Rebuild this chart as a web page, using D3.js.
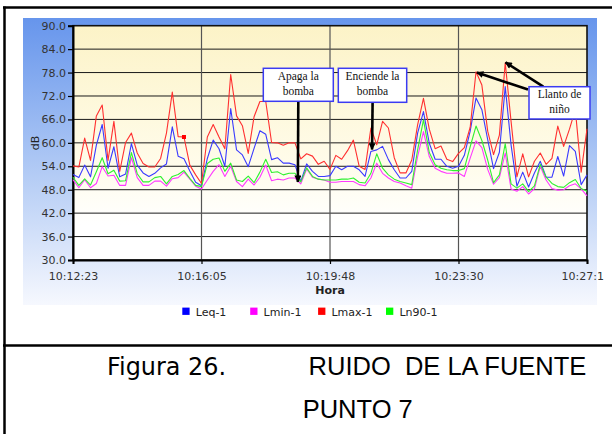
<!DOCTYPE html>
<html>
<head>
<meta charset="utf-8">
<script src="https://cdn.jsdelivr.net/npm/d3@7/dist/d3.min.js"></script>
<style>
  html, body { margin: 0; padding: 0; background: #fff; overflow: hidden; }
  svg { display: block; }
</style>
</head>
<body>
<svg id="fig" width="612" height="434"></svg>
<script>
// Time labels shown on the category axis (one every 22 samples)
const tickLabels = ["10:12:23", "10:16:05", "10:19:48", "10:23:30", "10:27:1"];
const tickIndex = [0, 22, 44, 66, 88];

// dB axis ticks
const yTicks = [30, 36, 42, 48, 54, 60, 66, 72, 78, 84, 90];

// Sound level series, one value per sample
const leq = [
  51.9, 51.1, 54.3, 51.3, 59.4, 64.7, 53.5, 59.0, 51.3, 52.0, 59.8, 54.3, 52.3, 51.4, 52.2, 53.6, 54.6, 64.1, 56.6, 55.9, 52.8, 49.9,
  49.0, 56.0, 60.7, 58.5, 54.0, 68.8, 58.2, 56.9, 53.9, 58.6, 63.1, 62.2, 55.7, 56.2, 54.8, 54.8, 54.4, 50.1, 54.6, 52.7, 51.4, 51.4,
  51.6, 54.0, 53.1, 54.0, 54.0, 53.1, 51.4, 57.8, 58.2, 59.1, 55.7, 53.1, 51.0, 51.0, 52.7, 62.5, 68.0, 59.9, 55.8, 55.8, 54.0, 53.5,
  54.0, 56.8, 63.0, 71.5, 68.5, 60.8, 53.4, 57.6, 74.4, 59.5, 48.9, 52.5, 48.7, 52.3, 55.3, 51.2, 51.2, 56.5, 51.5, 59.3, 57.8, 49.3,
  51.8
];
const lmin = [
  50.6, 48.5, 50.6, 48.5, 49.6, 53.9, 51.5, 51.7, 49.1, 49.1, 56.2, 51.1, 49.1, 49.1, 50.2, 50.2, 48.9, 50.8, 51.1, 52.5, 50.7, 48.9,
  48.2, 50.5, 52.7, 54.4, 51.4, 54.0, 50.1, 48.8, 50.7, 49.2, 51.2, 54.3, 50.3, 50.7, 50.5, 51.0, 51.0, 49.5, 53.3, 51.2, 50.7, 50.5,
  49.9, 49.9, 50.1, 50.1, 50.1, 49.3, 49.0, 51.0, 54.8, 52.2, 51.0, 50.1, 49.7, 49.0, 48.4, 56.5, 62.9, 56.5, 53.5, 52.7, 52.2, 52.2,
  52.3, 51.4, 56.1, 60.5, 58.8, 53.2, 49.4, 51.1, 57.4, 48.2, 47.6, 48.8, 46.9, 48.3, 54.0, 50.5, 48.3, 47.9, 48.0, 49.0, 49.5, 48.2,
  46.4
];
const lmax = [
  54.1, 53.8, 61.2, 55.5, 66.9, 69.7, 55.5, 65.5, 52.7, 60.1, 62.5, 57.4, 54.7, 53.8, 53.8, 56.0, 62.5, 73.0, 61.6, 61.5, 54.3, 51.8,
  49.6, 61.5, 64.7, 61.5, 58.5, 77.5, 66.9, 64.4, 57.3, 66.7, 70.6, 70.6, 60.1, 60.0, 59.4, 60.0, 60.0, 55.9, 57.2, 56.6, 54.5, 55.3,
  53.2, 56.8, 55.8, 58.0, 60.7, 54.0, 53.2, 63.8, 59.5, 65.5, 63.8, 56.2, 52.3, 52.3, 55.6, 64.6, 71.4, 63.5, 58.5, 59.2, 55.8, 55.2,
  57.3, 58.8, 64.0, 78.2, 74.8, 63.0, 57.0, 62.0, 80.5, 65.5, 51.3, 57.2, 51.3, 55.3, 57.4, 54.5, 56.0, 64.3, 59.1, 63.5, 68.5, 52.5,
  63.6
];
const ln90 = [
  51.2, 49.1, 50.8, 49.2, 52.6, 56.2, 52.1, 53.0, 50.2, 50.3, 57.5, 52.1, 50.0, 50.0, 51.1, 51.4, 49.5, 51.4, 51.9, 52.9, 50.9, 49.1,
  48.8, 54.7, 55.8, 56.1, 52.7, 54.8, 50.5, 50.1, 51.5, 49.8, 52.5, 55.8, 52.4, 52.6, 51.8, 52.2, 52.2, 50.0, 53.6, 51.4, 50.7, 50.5,
  50.5, 50.5, 50.7, 50.7, 51.0, 49.9, 49.7, 52.2, 57.2, 53.5, 51.8, 50.7, 50.1, 49.7, 49.3, 58.2, 65.9, 57.5, 54.4, 53.5, 53.1, 52.9,
  52.9, 53.4, 59.0, 64.3, 60.6, 55.6, 49.8, 51.8, 59.8, 49.5, 48.4, 49.5, 47.5, 49.0, 54.5, 51.2, 49.6, 48.8, 48.6, 49.8, 50.6, 48.3,
  47.6
];

const seriesNames = ["Leq-1", "Lmin-1", "Lmax-1", "Ln90-1"];
const seriesValues = [leq, lmin, lmax, ln90];
const seriesColors = ["#0000FF", "#FF00FF", "#FF0000", "#00FF00"];
const lineColors = ["#3A3AFF", "#FF3AFF", "#FF3030", "#30F030"];

// The one Lmax sample that carries a point marker
const lmaxMarked = [19];

const svg = d3.select("#fig");
const defs = svg.append("defs");

// Backgrounds
const bgGrad = defs.append("linearGradient").attr("id", "chartBg")
  .attr("x1", 0).attr("y1", 0).attr("x2", 0).attr("y2", 1);
bgGrad.append("stop").attr("offset", "0%").attr("stop-color", "#6695EC");
bgGrad.append("stop").attr("offset", "55%").attr("stop-color", "#B4CCF5");
bgGrad.append("stop").attr("offset", "100%").attr("stop-color", "#F6F8FE");

const plotGrad = defs.append("linearGradient").attr("id", "plotBg")
  .attr("x1", 0).attr("y1", 0).attr("x2", 0).attr("y2", 1);
plotGrad.append("stop").attr("offset", "0%").attr("stop-color", "#FCF3C7");
plotGrad.append("stop").attr("offset", "60%").attr("stop-color", "#FFFCEB");
plotGrad.append("stop").attr("offset", "85%").attr("stop-color", "#FFFFFF");

defs.append("marker").attr("id", "head")
  .attr("markerUnits", "userSpaceOnUse")
  .attr("viewBox", "0 0 10 10").attr("refX", 9).attr("refY", 5)
  .attr("markerWidth", 8).attr("markerHeight", 7)
  .attr("orient", "auto")
  .append("path").attr("d", "M0,0 L10,5 L0,10 z").attr("fill", "#000");

// Outer frame of the figure table
const frame = svg.append("g").attr("stroke", "#000").attr("stroke-width", 2.5);
frame.append("line").attr("x1", 3).attr("x2", 612).attr("y1", 7.5).attr("y2", 7.5);
frame.append("line").attr("x1", 4.5).attr("x2", 4.5).attr("y1", 6.5).attr("y2", 434);
frame.append("line").attr("x1", 3).attr("x2", 612).attr("y1", 345.5).attr("y2", 345.5);

// Chart area
svg.append("rect").attr("x", 23).attr("y", 18).attr("width", 574).attr("height", 287)
  .attr("fill", "url(#chartBg)");

const x = d3.scaleLinear().domain([0, 88]).range([73, 587]);
const y = d3.scaleLinear().domain([30, 90]).range([260, 25.7]);

const [px0, px1] = x.range();
const [py0, py1] = y.range();

svg.append("rect").attr("x", px0).attr("y", py1).attr("width", px1 - px0).attr("height", py0 - py1)
  .attr("fill", "url(#plotBg)");

// Grid
const grid = svg.append("g");
grid.selectAll("line.h").data(yTicks.slice(1, -1)).join("line")
  .attr("x1", px0).attr("x2", px1)
  .attr("y1", d => y(d)).attr("y2", d => y(d))
  .attr("stroke", "#1A1A1A").attr("stroke-width", 1);
grid.selectAll("line.v").data(tickIndex.slice(1, -1)).join("line")
  .attr("x1", d => x(d)).attr("x2", d => x(d))
  .attr("y1", py1).attr("y2", py0)
  .attr("stroke", "#555").attr("stroke-width", 1.2);

// Plot border
svg.append("rect").attr("x", px0).attr("y", py1).attr("width", px1 - px0).attr("height", py0 - py1)
  .attr("fill", "none").attr("stroke", "#111").attr("stroke-width", 1.6);

// Axes
const fontUI = "'DejaVu Sans', Verdana, sans-serif";
const yAxis = svg.append("g").attr("transform", `translate(${px0},0)`)
  .call(d3.axisLeft(y).tickValues(yTicks).tickFormat(d3.format(".1f")).tickSize(5).tickPadding(2));
const xAxis = svg.append("g").attr("transform", `translate(0,${py0})`)
  .call(d3.axisBottom(x).tickValues(tickIndex).tickFormat((d, i) => tickLabels[i]).tickSize(4).tickPadding(8));
[yAxis, xAxis].forEach(g => {
  g.select(".domain").attr("stroke", "#000").attr("stroke-width", 2);
  g.selectAll(".tick line").attr("stroke", "#000").attr("stroke-width", 1.2);
  g.selectAll("text").attr("fill", "#333").style("font-family", fontUI).style("font-size", "11px");
});
xAxis.selectAll(".tick text").filter((d, i) => i === tickIndex.length - 1).attr("dx", -4.8);

svg.append("text").attr("transform", "translate(38.5,143) rotate(-90)")
  .attr("text-anchor", "middle").attr("fill", "#222")
  .style("font-family", fontUI).style("font-size", "11px").text("dB");
svg.append("text").attr("x", (px0 + px1) / 2).attr("y", 294)
  .attr("text-anchor", "middle").attr("fill", "#222")
  .style("font-family", fontUI).style("font-size", "11px").style("font-weight", "bold").text("Hora");

// Series lines
const line = d3.line().x((d, i) => x(i)).y(d => y(d));
svg.append("g").selectAll("path").data(seriesValues).join("path")
  .attr("d", d => line(d))
  .attr("fill", "none")
  .attr("stroke", (d, i) => lineColors[i])
  .attr("stroke-width", 1.1)
  .attr("stroke-linejoin", "round");

svg.append("g").selectAll("rect").data(lmaxMarked).join("rect")
  .attr("x", i => x(i) - 2).attr("y", i => y(lmax[i]) - 2)
  .attr("width", 4).attr("height", 4).attr("fill", "#FF0000");

// Legend
const legend = svg.append("g");
const legX0 = 182.3, legStep = 67.9;
seriesNames.forEach((name, i) => {
  const g = legend.append("g").attr("transform", `translate(${legX0 + i * legStep},0)`);
  g.append("rect").attr("x", 0).attr("y", 307.6).attr("width", 7.3).attr("height", 7.3)
    .attr("fill", seriesColors[i]);
  g.append("text").attr("x", 13.4).attr("y", 315.6).attr("fill", "#222")
    .style("font-family", fontUI).style("font-size", "11px").text(name);
});

// Annotations
const fontSerif = "'Liberation Serif', 'Times New Roman', serif";
const notes = [
  { box: [263.3, 68.3, 70, 33], lines: ["Apaga la", "bomba"],
    arrows: [{ from: [298.3, 101.3], to: [38.5, 50.0] }] },
  { box: [338.3, 68.3, 68.4, 34], lines: ["Enciende la", "bomba"],
    arrows: [{ from: [372.6, 102.3], to: [51.2, 58.3] }] },
  { box: [529, 86.7, 61, 32.3], lines: ["Llanto de", "niño"],
    arrows: [{ from: [528, 89.5], to: [69.15, 78.0] }, { from: [543.3, 86.7], to: [74.05, 80.6] }] }
];
const ann = svg.append("g");
notes.forEach(n => {
  n.arrows.forEach(a => {
    ann.append("line")
      .attr("x1", a.from[0]).attr("y1", a.from[1])
      .attr("x2", x(a.to[0])).attr("y2", y(a.to[1]))
      .attr("stroke", "#000").attr("stroke-width", 2.6)
      .attr("marker-end", "url(#head)");
  });
  const [bx, by, bw, bh] = n.box;
  ann.append("rect").attr("x", bx).attr("y", by).attr("width", bw).attr("height", bh)
    .attr("fill", "#fff").attr("stroke", "#3B3BF2").attr("stroke-width", 1.5);
  n.lines.forEach((t, k) => {
    ann.append("text").attr("x", bx + bw / 2).attr("y", by + 11.6 + k * 15)
      .attr("text-anchor", "middle").attr("fill", "#111")
      .style("font-family", fontSerif).style("font-size", "11.5px").text(t);
  });
});

// Caption
svg.append("text").attr("x", 107).attr("y", 375)
  .attr("textLength", 119).attr("lengthAdjust", "spacingAndGlyphs")
  .style("font-family", fontUI).style("font-size", "24px").attr("fill", "#000")
  .text("Figura 26.");
svg.append("text").attr("x", 308.6).attr("y", 375)
  .style("font-family", "'Liberation Sans', Arial, sans-serif").style("font-size", "25.5px")
  .style("white-space", "pre").attr("fill", "#000")
  .text("RUIDO  DE LA FUENTE");
svg.append("text").attr("x", 302.7).attr("y", 418.3)
  .style("font-family", "'Liberation Sans', Arial, sans-serif").style("font-size", "25.5px")
  .attr("fill", "#000")
  .text("PUNTO 7");
</script>
</body>
</html>
